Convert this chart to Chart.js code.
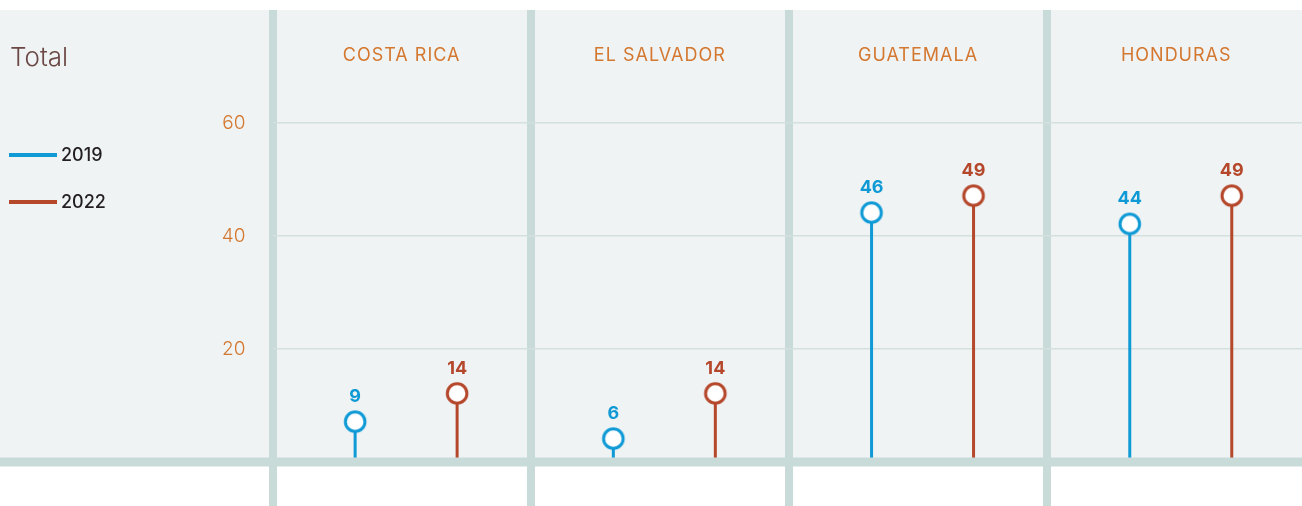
<!DOCTYPE html>
<html><head><meta charset="utf-8">
<script src="https://cdn.jsdelivr.net/npm/chart.js@4.4.1/dist/chart.umd.min.js"></script>
<style>html,body{margin:0;padding:0;background:#fff;overflow:hidden}canvas{display:block}</style>
</head><body>
<canvas id="c" width="1302" height="506"></canvas>
<script>
// ---- data ----
const title = 'Total';
const categories = ['COSTA RICA', 'EL SALVADOR', 'GUATEMALA', 'HONDURAS'];
const seriesNames = ['2019', '2022'];
const values2019 = [9, 6, 46, 44];
const values2022 = [14, 14, 49, 49];
const yTickValues = [20, 40, 60];

// ---- style ----
const FONT = 'Inter, "Noto Sans", sans-serif';
const colors = ['#0f9ad6', '#b5472b'];
const ORANGE = '#d4772f';
const SEP = '#c9dbd9';
const PANEL = '#eff3f4';
const seriesOffsets = [-0.18, 0.215];
const X_MIN = -0.5, X_MAX = 3.487;
const MARK_DROP = 10.5;

function makeMarker(color) {
  const c = document.createElement('canvas');
  c.width = 28; c.height = 52;
  const g = c.getContext('2d');
  g.beginPath();
  g.arc(14, 26 + MARK_DROP, 9.8, 0, Math.PI * 2);
  g.fillStyle = '#ffffff';
  g.fill();
  g.lineWidth = 3;
  g.strokeStyle = color;
  g.stroke();
  return c;
}

const seriesValues = [values2019, values2022];
const datasets = [];
seriesValues.forEach((vals, s) => {
  datasets.push({
    type: 'bar', label: seriesNames[s], order: 2,
    data: vals.map((v, i) => ({ x: i + seriesOffsets[s], y: v })),
    backgroundColor: colors[s], borderWidth: 0,
    grouped: false, maxBarThickness: 3
  });
});
seriesValues.forEach((vals, s) => {
  datasets.push({
    type: 'line', label: seriesNames[s] + ' marker', order: 1, showLine: false,
    data: vals.map((v, i) => ({ x: i + seriesOffsets[s], y: v })),
    pointStyle: makeMarker(colors[s]), pointRadius: 12,
    borderColor: colors[s], backgroundColor: '#fff',
    clip: false, isMarker: true, seriesIndex: s
  });
});

const decor = {
  id: 'decor',
  beforeDraw(chart) {
    const { ctx, scales } = chart;
    const y0 = scales.y.getPixelForValue(0);
    ctx.save();
    ctx.fillStyle = '#fff';
    ctx.fillRect(0, 0, chart.width, chart.height);
    ctx.fillStyle = PANEL;
    ctx.fillRect(0, chart.chartArea.top, chart.width, y0 - chart.chartArea.top);
    ctx.restore();
  },
  afterDatasetsDraw(chart) {
    const { ctx, scales } = chart;
    const y0 = scales.y.getPixelForValue(0);
    ctx.save();
    // baseline
    ctx.fillStyle = SEP;
    ctx.fillRect(0, y0 - 4.5, chart.width, 9);
    // value labels
    ctx.textAlign = 'center';
    ctx.textBaseline = 'middle';
    ctx.font = 'bold 18px ' + FONT;
    chart.data.datasets.forEach((ds, di) => {
      if (!ds.isMarker) return;
      const meta = chart.getDatasetMeta(di);
      ctx.fillStyle = colors[ds.seriesIndex];
      meta.data.forEach((el, i) => {
        ctx.fillText(String(ds.data[i].y), el.x, el.y + MARK_DROP - 25);
      });
    });
    // category labels
    ctx.font = '18px ' + FONT;
    ctx.fillStyle = ORANGE;
    if ('letterSpacing' in ctx) ctx.letterSpacing = '1px';
    categories.forEach((c, i) => {
      ctx.fillText(c, scales.x.getPixelForValue(i), 56);
    });
    if ('letterSpacing' in ctx) ctx.letterSpacing = '0px';
    // title
    ctx.textAlign = 'left';
    ctx.font = '300 26px ' + FONT;
    ctx.fillStyle = '#6b4845';
    ctx.fillText(title, 10, 58);
    // legend
    seriesNames.forEach((n, s) => {
      const ly = 155 + s * 47;
      ctx.fillStyle = colors[s];
      ctx.fillRect(9, ly - 2, 48, 4);
      ctx.fillStyle = '#231f20';
      ctx.font = '500 18px ' + FONT;
      ctx.fillText(n, 61, ly + 1);
    });
    ctx.restore();
  }
};

new Chart(document.getElementById('c'), {
  type: 'bar',
  data: { datasets },
  options: {
    responsive: false, animation: false, events: [],
    layout: { autoPadding: false, padding: { top: 10, left: 0, right: 0, bottom: 0 } },
    plugins: { legend: { display: false }, tooltip: { enabled: false } },
    scales: {
      x: {
        type: 'linear', min: X_MIN, max: X_MAX, offset: false,
        afterBuildTicks(scale) {
          scale.ticks = [-0.5, 0.5, 1.5, 2.5, X_MAX].map(v => ({ value: v }));
        },
        ticks: { display: false },
        border: { display: false },
        grid: {
          offset: false,
          color: SEP, drawTicks: true, tickLength: 44,
          lineWidth: (ctx) => (ctx.tick && ctx.tick.value === X_MAX ? 1 : 8)
        }
      },
      y: {
        min: 0, max: 80,
        afterBuildTicks(scale) {
          scale.ticks = yTickValues.map(v => ({ value: v }));
        },
        afterFit(scale) { scale.width = 272.5; scale.paddingTop = 0; scale.paddingBottom = 0; },
        border: { display: false },
        grid: { color: '#d3e0de', lineWidth: 1.5, drawTicks: false },
        ticks: { padding: 27, color: ORANGE, font: { family: FONT, size: 19, weight: '300' } }
      }
    }
  },
  plugins: [decor]
});
</script>
</body></html>
